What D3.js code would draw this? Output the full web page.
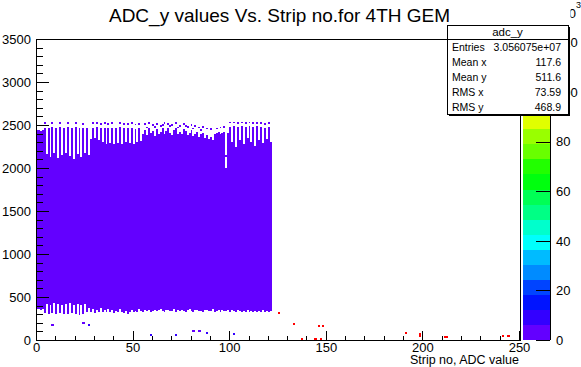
<!DOCTYPE html>
<html>
<head>
<meta charset="utf-8">
<script src="https://cdn.jsdelivr.net/npm/d3@7"></script>
<style>
  body { margin: 0; background: #fff; }
  svg text { font-family: "Liberation Sans", Arial, Helvetica, sans-serif; fill: #000; }
</style>
</head>
<body>
<svg id="chart" width="581" height="367"></svg>
<script>
// ---- data ----
var title = 'ADC_y values Vs. Strip no.for 4TH GEM'
var xTitle = 'Strip no, ADC value'

var xTicks = [0, 50, 100, 150, 200, 250]
var xMinor = [10, 20, 30, 40, 60, 70, 80, 90, 110, 120, 130, 140, 160, 170, 180, 190, 210, 220, 230, 240]
var yTicks = [0, 500, 1000, 1500, 2000, 2500, 3000, 3500]
var yMinor = [100, 200, 300, 400, 600, 700, 800, 900, 1100, 1200, 1300, 1400, 1600, 1700, 1800, 1900,
  2100, 2200, 2300, 2400, 2600, 2700, 2800, 2900, 3100, 3200, 3300, 3400]
var zTicks = [0, 20, 40, 60, 80, 100, 120]   // x10^3
var zMax = 121.5
var nLevels = 20

// per strip (0..121): top and bottom ADC of the filled column
var colTop = [
  2440, 2440, 2430, 2440, 2470, 2160, 2470, 2130, 2480, 2170,
  2470, 2120, 2480, 2150, 2470, 2180, 2480, 2140, 2470, 2110,
  2480, 2160, 2470, 2130, 2470, 2170, 2460, 2150, 2340, 2470,
  2350, 2480, 2330, 2460, 2300, 2470, 2280, 2460, 2290, 2470,
  2280, 2460, 2290, 2480, 2280, 2470, 2300, 2460, 2290, 2470,
  2280, 2450, 2300, 2460, 2310, 2400, 2440, 2380, 2460, 2410,
  2430, 2370, 2450, 2400, 2420, 2460, 2390, 2430, 2470, 2410,
  2380, 2440, 2460, 2400, 2420, 2390, 2450, 2430, 2380, 2410,
  2440, 2370, 2400, 2420, 2360, 2390, 2410, 2350, 2380, 2340,
  2360, 2330, 2400, 2410, 2420, 2400, 2410, 2420, 2000, 2410,
  2480, 2300, 2490, 2250, 2480, 2330, 2490, 2280, 2480, 2350,
  2490, 2300, 2480, 2260, 2490, 2320, 2480, 2290, 2470, 2340,
  2480, 2300
]
var colBottom = [
  360, 360, 350, 360, 310, 420, 305, 410, 310, 430,
  300, 420, 310, 410, 305, 420, 300, 430, 310, 410,
  300, 420, 295, 410, 300, 420, 330, 370, 320, 360,
  315, 350, 320, 370, 325, 345, 330, 360, 320, 350,
  315, 340, 330, 355, 320, 310, 340, 300, 330, 350,
  325, 340, 330, 360, 340, 330, 350, 335, 345, 330,
  340, 350, 335, 345, 360, 340, 330, 350, 345, 335,
  340, 355, 330, 345, 340, 350, 335, 330, 345, 355,
  340, 330, 350, 345, 335, 340, 330, 350, 345, 335,
  340, 355, 330, 340, 345, 330, 350, 340, 335, 345,
  330, 350, 340, 330, 345, 335, 320, 340, 330, 345,
  320, 340, 325, 335, 320, 340, 330, 345, 320, 335,
  325, 340
]

// isolated filled cells above the columns: [strip, adc]
var topSpeckles = [
  [4, 2510], [8, 2515], [12, 2510], [16, 2515], [20, 2510], [24, 2505],
  [29, 2510], [31, 2515], [33, 2505], [35, 2510], [37, 2505], [39, 2510],
  [43, 2510], [45, 2505], [47, 2500], [49, 2510], [51, 2495], [53, 2500],
  [56, 2500], [57, 2460], [58, 2510], [60, 2490], [61, 2470], [62, 2500],
  [64, 2480], [65, 2490], [66, 2510], [68, 2500], [69, 2480], [70, 2490],
  [72, 2510], [73, 2460], [74, 2480], [76, 2500], [77, 2480], [78, 2470],
  [80, 2490], [81, 2450], [82, 2480], [84, 2460], [85, 2430], [86, 2470],
  [88, 2450], [90, 2440], [93, 2450], [95, 2460], [97, 2470], [98, 2130],
  [100, 2520], [102, 2520], [104, 2515], [106, 2520], [108, 2515], [110, 2520],
  [112, 2510], [114, 2515], [116, 2510], [118, 2505], [120, 2510]
]

// stray bins at low ADC: [strip, adc, colour level]
var lowBins = [
  [8, 165, 0], [24, 185, 0], [27, 165, 1], [59, 45, 1], [72, 45, 1],
  [81, 95, 0], [84, 95, 0], [88, 70, 1], [102, 60, 1],
  [125, 300, 19], [133, 177, 19], [146, 155, 19], [148, 155, 19],
  [191, 72, 19], [198, 59, 19], [198, 37, 19], [211, 24, 19], [212, 24, 19],
  [241, 37, 19], [244, 37, 19], [137, 5, 19], [144, 5, 19], [147, 5, 19]
]

var statsName = 'adc_y'
var statsLabels = ['Entries', 'Mean x', 'Mean y', 'RMS x', 'RMS y']
var statsValues = ['3.056075e+07', '117.6', '511.6', '73.59', '468.9']

// ---- drawing ----
var svg = d3.select('#chart')
var frameL = 36, frameR = 519, frameT = 39, frameB = 340
var yBin = 20

var x = d3.scaleLinear().domain([0, 250]).range([frameL, frameR])
var y = d3.scaleLinear().domain([0, 3500]).range([frameB, frameT])
var z = d3.scaleLinear().domain([0, zMax]).range([frameB, frameT])

// ROOT "pretty" palette picked for 20 contour levels
function levelColor (k) {
  var idx = Math.floor((k + 0.99) * 50 / nLevels)
  return d3.hsl(280 - (idx + 1) * 5.6, 1, 0.5).formatHex()
}

var plot = svg.append('g').attr('shape-rendering', 'crispEdges')

plot.selectAll('.col')
  .data(colTop)
  .enter().append('rect')
  .attr('class', 'col')
  .attr('x', function (d, i) { return x(i) })
  .attr('width', function (d, i) { return x(i + 1) - x(i) })
  .attr('y', function (d) { return y(d) })
  .attr('height', function (d, i) { return y(colBottom[i]) - y(d) })
  .attr('fill', levelColor(0))

plot.selectAll('.speck')
  .data(topSpeckles)
  .enter().append('rect')
  .attr('class', 'speck')
  .attr('x', function (d) { return x(d[0]) })
  .attr('width', function (d) { return x(d[0] + 1) - x(d[0]) })
  .attr('y', function (d) { return y(d[1] + yBin) })
  .attr('height', function (d) { return y(d[1]) - y(d[1] + yBin) })
  .attr('fill', levelColor(0))

plot.selectAll('.low')
  .data(lowBins)
  .enter().append('rect')
  .attr('class', 'low')
  .attr('x', function (d) { return x(d[0]) })
  .attr('width', function (d) { return x(d[0] + 1.2) - x(d[0]) })
  .attr('y', function (d) { return y(d[1] + yBin) })
  .attr('height', function (d) { return y(d[1]) - y(d[1] + yBin) })
  .attr('fill', function (d) { return levelColor(d[2]) })

// frame
svg.append('rect')
  .attr('x', frameL).attr('y', frameT)
  .attr('width', frameR - frameL + 1).attr('height', frameB - frameT)
  .attr('fill', 'none').attr('stroke', '#000').attr('stroke-width', 1)
  .attr('shape-rendering', 'crispEdges')

function styleAxis (g) {
  g.attr('font-family', '"Liberation Sans", Arial, sans-serif').attr('font-size', 13)
  g.select('.domain').remove()
  g.selectAll('line').attr('stroke', '#000').attr('shape-rendering', 'crispEdges')
}

// y axis
svg.append('g').attr('transform', 'translate(' + frameL + ',0)')
  .call(d3.axisLeft(y).tickValues(yMinor).tickSize(-7).tickFormat(''))
  .call(styleAxis)
svg.append('g').attr('transform', 'translate(' + frameL + ',0)')
  .call(d3.axisLeft(y).tickValues(yTicks).tickSize(-13).tickPadding(5).tickFormat(d3.format('d')))
  .call(styleAxis)

// x axis
svg.append('g').attr('transform', 'translate(0,' + frameB + ')')
  .call(d3.axisBottom(x).tickValues(xMinor).tickSize(-4.5).tickFormat(''))
  .call(styleAxis)
svg.append('g').attr('transform', 'translate(0,' + frameB + ')')
  .call(d3.axisBottom(x).tickValues(xTicks).tickSize(-9).tickPadding(3).tickFormat(d3.format('d')))
  .call(styleAxis)

svg.append('text')
  .attr('x', frameR).attr('y', 364)
  .attr('text-anchor', 'end').attr('font-size', 12.5)
  .text(xTitle)

// palette
var palX0 = 523, palX1 = 550
var levels = d3.range(nLevels)
svg.append('g').attr('shape-rendering', 'crispEdges')
  .selectAll('rect')
  .data(levels)
  .enter().append('rect')
  .attr('x', palX0)
  .attr('width', palX1 - palX0)
  .attr('y', function (k) { return z(zMax * (k + 1) / nLevels) })
  .attr('height', function (k) { return z(zMax * k / nLevels) - z(zMax * (k + 1) / nLevels) })
  .attr('fill', function (k) { return levelColor(k) })

svg.append('line')
  .attr('x1', palX1).attr('x2', palX1).attr('y1', frameT).attr('y2', frameB)
  .attr('stroke', '#000').attr('shape-rendering', 'crispEdges')

svg.append('g').attr('transform', 'translate(' + palX1 + ',0)')
  .call(d3.axisRight(z).tickValues(zTicks).tickSize(-14).tickPadding(6).tickFormat(d3.format('d')))
  .call(styleAxis)

// exponent of the palette axis, mostly hidden as in the reference
svg.append('clipPath').attr('id', 'expClip')
  .append('rect').attr('x', 570.5).attr('y', 0).attr('width', 12).attr('height', 25)
var expG = svg.append('g').attr('clip-path', 'url(#expClip)')
expG.append('text').attr('x', 576).attr('y', 18).attr('text-anchor', 'end').attr('font-size', 13)
  .text('\u00d710')
expG.append('text').attr('x', 576).attr('y', 8).attr('font-size', 9).text('3')

// title
svg.append('text')
  .attr('x', 279.5).attr('y', 22)
  .attr('text-anchor', 'middle').attr('font-size', 19)
  .text(title)

// stats box
var bx = 447, by = 25, bw = 121, bh = 89
var stats = svg.append('g')
stats.append('rect').attr('x', bx + 2).attr('y', by + 2).attr('width', bw).attr('height', bh)
  .attr('fill', '#000').attr('shape-rendering', 'crispEdges')
stats.append('rect').attr('x', bx).attr('y', by).attr('width', bw).attr('height', bh)
  .attr('fill', '#fff').attr('stroke', '#000').attr('shape-rendering', 'crispEdges')
stats.append('line').attr('x1', bx).attr('x2', bx + bw).attr('y1', by + 14).attr('y2', by + 14)
  .attr('stroke', '#000').attr('shape-rendering', 'crispEdges')
stats.append('text').attr('x', bx + bw / 2).attr('y', by + 11).attr('text-anchor', 'middle')
  .attr('font-size', 11.5).text(statsName)

stats.selectAll('.lab')
  .data(statsLabels)
  .enter().append('text')
  .attr('class', 'lab')
  .attr('x', bx + 5)
  .attr('y', function (d, i) { return by + 26 + i * 15 })
  .attr('font-size', 10.5)
  .text(function (d) { return d })

stats.selectAll('.val')
  .data(statsValues)
  .enter().append('text')
  .attr('class', 'val')
  .attr('x', bx + bw - 7)
  .attr('y', function (d, i) { return by + 26 + i * 15 })
  .attr('text-anchor', 'end')
  .attr('font-size', 10.5)
  .text(function (d) { return d })
</script>
</body>
</html>
